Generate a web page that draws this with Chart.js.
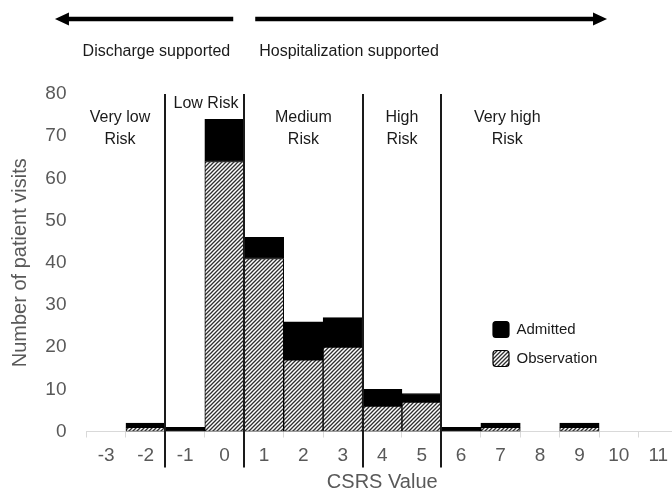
<!DOCTYPE html>
<html>
<head>
<meta charset="utf-8">
<script src="https://cdn.jsdelivr.net/npm/chart.js@4/dist/chart.umd.min.js"></script>
<style>
  html, body { margin: 0; padding: 0; background: #fff; overflow: hidden; width: 672px; height: 494px; }
  canvas { display: block; }
</style>
</head>
<body>
<canvas id="c" width="680" height="494"></canvas>
<script>
// CSRS score categories and patient visit counts
const csrsValues  = ['-3', '-2', '-1', '0', '1', '2', '3', '4', '5', '6', '7', '8', '9', '10', '11'];
const observation = [0, 1, 0, 64, 41, 17, 20, 6, 7, 0, 1, 0, 1, 0, 0];
const admitted    = [0, 1, 1, 10, 5, 9, 7, 4, 2, 1, 1, 0, 1, 0, 0];

// Risk band cutoffs (CSRS value units) and their captions
const riskCutoffs = [-1.5, 0.5, 3.5, 5.5];
const riskCaptions = [['Very low', 'Risk'], ['Low Risk'], ['Medium', 'Risk'], ['High', 'Risk'], ['Very high', 'Risk']];
const directionCaptions = ['Discharge supported', 'Hospitalization supported'];

const FONT = '"Liberation Sans", Arial, Helvetica, sans-serif';
const GREY = '#595959';

// Diagonal hatch fill for the observation series
function makeHatch(ctx) {
  const t = document.createElement('canvas');
  t.width = 4; t.height = 4;
  const g = t.getContext('2d');
  g.fillStyle = '#ffffff';
  g.fillRect(0, 0, 4, 4);
  g.strokeStyle = '#2e2e2e';
  g.lineWidth = 1.3;
  g.beginPath();
  g.moveTo(-1, 5); g.lineTo(5, -1);
  g.moveTo(-1, 1); g.lineTo(1, -1);
  g.moveTo(3, 5); g.lineTo(5, 3);
  g.stroke();
  return ctx.createPattern(t, 'repeat');
}

const canvas = document.getElementById('c');
const ctx = canvas.getContext('2d');
const hatch = makeHatch(ctx);

// value on the CSRS axis -> pixel (category index = value + 3)
function xPix(scale, v) { return scale.getPixelForValue(v - Number(csrsValues[0])); }

const decorations = {
  id: 'decorations',
  afterDatasetsDraw(chart) {
    const { ctx, chartArea: area, scales: { x } } = chart;
    ctx.save();

    // risk band separators
    ctx.strokeStyle = '#1a1a1a';
    ctx.lineWidth = 2;
    riskCutoffs.forEach(c => {
      const px = Math.round(xPix(x, c));
      ctx.beginPath();
      ctx.moveTo(px, area.top);
      ctx.lineTo(px, area.bottom + 36);
      ctx.stroke();
    });

    // risk band captions
    const captionAt = [-2.65, -0.47, 2.0, 4.5, 7.17];
    ctx.fillStyle = '#1a1a1a';
    ctx.font = '16px ' + FONT;
    ctx.textAlign = 'center';
    ctx.textBaseline = 'middle';
    riskCaptions.forEach((lines, i) => {
      const cx = xPix(x, captionAt[i]);
      const y0 = lines.length === 1 ? area.top + 10 : area.top + 24;
      lines.forEach((t, k) => ctx.fillText(t, cx, y0 + k * 22));
    });

    // direction arrows split at the low/medium cutoff
    const split = xPix(x, riskCutoffs[1]);
    const ay = 19;
    ctx.strokeStyle = '#000';
    ctx.fillStyle = '#000';
    ctx.lineWidth = 4.5;
    const leftTip = xPix(x, -4.3), rightTip = xPix(x, 9.7);
    ctx.beginPath();
    ctx.moveTo(split - 11, ay); ctx.lineTo(leftTip + 10, ay);
    ctx.moveTo(split + 11, ay); ctx.lineTo(rightTip - 10, ay);
    ctx.stroke();
    ctx.beginPath();
    ctx.moveTo(leftTip, ay); ctx.lineTo(leftTip + 14, ay - 6.5); ctx.lineTo(leftTip + 14, ay + 6.5); ctx.closePath();
    ctx.moveTo(rightTip, ay); ctx.lineTo(rightTip - 14, ay - 6.5); ctx.lineTo(rightTip - 14, ay + 6.5); ctx.closePath();
    ctx.fill();

    ctx.fillStyle = '#1a1a1a';
    ctx.font = '16px ' + FONT;
    ctx.textAlign = 'right';
    ctx.fillText(directionCaptions[0], split - 14, 52);
    ctx.textAlign = 'left';
    ctx.fillText(directionCaptions[1], split + 15, 52);

    // legend
    const lx = area.left + 406, ly = area.top + 227;
    const items = [chart.data.datasets[1], chart.data.datasets[0]];
    items.forEach((ds, i) => {
      const top = ly + i * 29;
      ctx.beginPath();
      ctx.roundRect(lx + 0.5, top + 0.5, 16, 16, 3);
      ctx.fillStyle = ds.backgroundColor;
      ctx.fill();
      ctx.lineWidth = 1.2;
      ctx.strokeStyle = '#000';
      ctx.stroke();
      ctx.fillStyle = '#1a1a1a';
      ctx.font = '15px ' + FONT;
      ctx.textAlign = 'left';
      ctx.textBaseline = 'middle';
      ctx.fillText(ds.label, lx + 24, top + 9);
    });

    ctx.restore();
  }
};

new Chart(ctx, {
  type: 'bar',
  data: {
    labels: csrsValues,
    datasets: [
      { label: 'Observation', data: observation, backgroundColor: hatch,
        borderColor: '#000', borderWidth: 1, borderSkipped: false },
      { label: 'Admitted', data: admitted, backgroundColor: '#000',
        borderColor: '#000', borderWidth: 1, borderSkipped: false }
    ]
  },
  options: {
    responsive: false,
    devicePixelRatio: 1,
    animation: false,
    layout: { padding: { left: 0, top: 94, right: 2, bottom: 0 } },
    datasets: { bar: { barPercentage: 1, categoryPercentage: 1 } },
    plugins: { legend: { display: false }, tooltip: { enabled: false } },
    scales: {
      x: {
        stacked: true,
        afterFit(s) { s.height = 62.5; },
        grid: { drawOnChartArea: false, drawTicks: true, tickLength: 6, color: '#d9d9d9' },
        border: { display: true, color: '#d9d9d9', width: 1 },
        ticks: { color: GREY, font: { family: FONT, size: 19 }, padding: 7, maxRotation: 0, autoSkip: false },
        title: { display: true, text: 'CSRS Value', color: GREY, font: { family: FONT, size: 20 }, padding: { top: 0, bottom: 0 } }
      },
      y: {
        stacked: true,
        min: 0, max: 80,
        afterFit(s) { s.width = 86.5; },
        grid: { display: false, drawTicks: false },
        border: { display: false },
        ticks: { stepSize: 10, color: GREY, font: { family: FONT, size: 19 }, padding: 20 },
        title: { display: true, text: 'Number of patient visits', color: GREY, font: { family: FONT, size: 20 }, padding: { top: 8, bottom: 0 } }
      }
    }
  },
  plugins: [decorations]
});
</script>
</body>
</html>
